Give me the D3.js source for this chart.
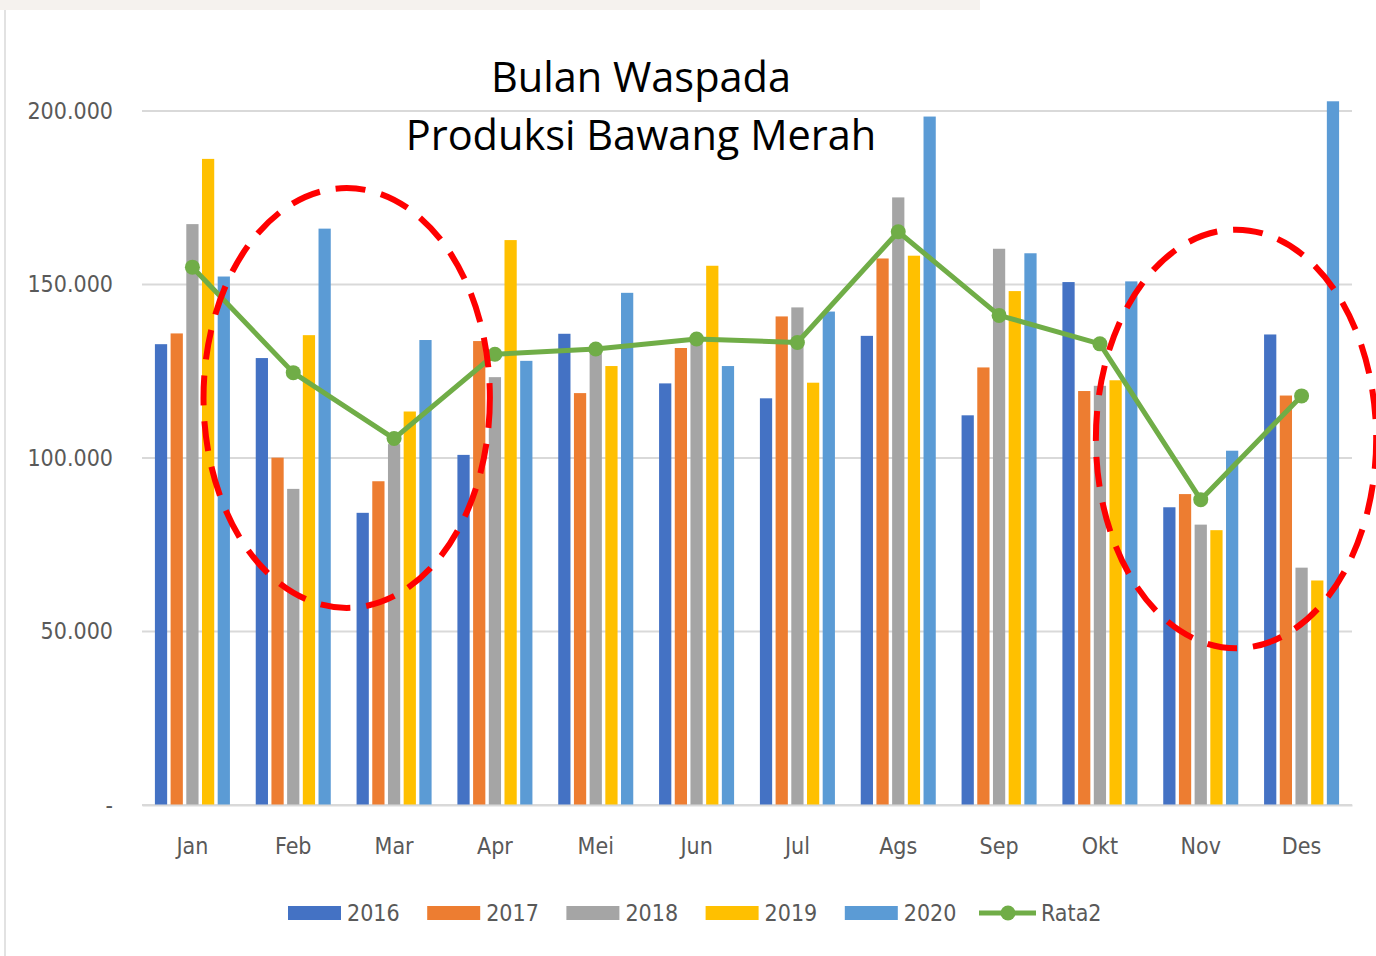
<!DOCTYPE html>
<html>
<head>
<meta charset="utf-8">
<script src="https://cdn.jsdelivr.net/npm/d3@7"></script>
<style>
  html, body { margin: 0; padding: 0; background: #fff; }
  svg { display: block; }
</style>
</head>
<body>
<div id="chart"></div>
<script>
// data
const months = ["Jan", "Feb", "Mar", "Apr", "Mei", "Jun", "Jul", "Ags", "Sep", "Okt", "Nov", "Des"];
const years = ["2016", "2017", "2018", "2019", "2020"];
const s2016 = [132800, 128800, 84200, 100900, 135800, 121500, 117200, 135200, 112300, 150700, 85800, 135600];
const s2017 = [135900, 100100, 93300, 133700, 118700, 131700, 140800, 157500, 126100, 119300, 89600, 118000];
const s2018 = [167400, 91100, 104000, 123300, 131000, 133400, 143400, 175100, 160300, 120800, 80800, 68400];
const s2019 = [186200, 135400, 113400, 162800, 126500, 155400, 121700, 158300, 148100, 122400, 79200, 64700];
const s2020 = [152300, 166100, 134000, 128000, 147600, 126500, 142200, 198400, 159000, 150900, 102100, 202800];
const rata2 = [155000, 124600, 105600, 129900, 131400, 134300, 133300, 165200, 141100, 132900, 88000, 117900];
const yTicks = [0, 50000, 100000, 150000, 200000];
const titleLines = ["Bulan Waspada", "Produksi Bawang Merah"];
// dashed circles drawn on the slide: centre in month units, centre value, radii
const marks = [
  { cx: 1.53, cy: 117300, rx: 1.42, ry: 60500 },
  { cx: 10.35, cy: 105500, rx: 1.39, ry: 60300 }
];

const series = [s2016, s2017, s2018, s2019, s2020];
const colors = ["#4472C4", "#ED7D31", "#A5A5A5", "#FFC000", "#5B9BD5"];
const lineColor = "#70AD47";

const W = 1376, H = 956;
const margin = { top: 111, right: 24, bottom: 151, left: 142 };
const width = W - margin.left - margin.right;
const height = H - margin.top - margin.bottom;

const svg = d3.select("#chart").append("svg")
    .attr("width", W)
    .attr("height", H);

// faded strip of the slide background at the top, and the slide border
svg.append("rect").attr("x", 0).attr("y", 0).attr("width", 980).attr("height", 10).attr("fill", "#f5f2ee");
svg.append("line").attr("x1", 5).attr("x2", 5).attr("y1", 10).attr("y2", H)
    .attr("stroke", "#e2e2e2").attr("stroke-width", 2);

const g = svg.append("g").attr("transform", "translate(" + margin.left + "," + margin.top + ")");

const x0 = d3.scaleBand().domain(months).range([0, width]).padding(0);
const x1 = d3.scaleBand().domain(years)
    .range([x0.bandwidth() * 0.128, x0.bandwidth() * 0.872])
    .paddingInner(0.22).paddingOuter(0);
const y = d3.scaleLinear().domain([0, 200000]).range([height, 0]);

const loc = d3.formatLocale({ decimal: ",", thousands: ".", grouping: [3], currency: ["Rp", ""] });
const fmt = v => v === 0 ? "-" : loc.format(",")(v);

const labelFont = "'DejaVu Sans Condensed', 'Liberation Sans Narrow', sans-serif";
const labelSize = 23;

// gridlines
g.append("g").selectAll("line").data(yTicks).join("line")
    .attr("x1", 0).attr("x2", width)
    .attr("y1", d => y(d)).attr("y2", d => y(d))
    .attr("stroke", "#d9d9d9").attr("stroke-width", 2);

// y labels
const yAxis = d3.axisLeft(y).tickValues(yTicks).tickFormat(fmt).tickSize(0).tickPadding(29);
g.append("g").call(yAxis)
    .call(a => a.select(".domain").remove())
    .selectAll("text")
    .attr("font-family", labelFont).attr("font-size", labelSize).attr("fill", "#595959");

// bars
const groups = g.append("g").selectAll("g").data(months).join("g")
    .attr("transform", d => "translate(" + x0(d) + ",0)");
groups.selectAll("rect")
    .data((m, i) => years.map((yr, k) => ({ yr: yr, k: k, v: series[k][i] })))
    .join("rect")
    .attr("x", d => x1(d.yr))
    .attr("width", x1.bandwidth())
    .attr("y", d => y(d.v))
    .attr("height", d => y(0) - y(d.v))
    .attr("fill", d => colors[d.k]);

// x axis
const xAxis = d3.axisBottom(x0).tickSize(0).tickPadding(33);
g.append("g").attr("transform", "translate(0," + height + ")").call(xAxis)
    .call(a => a.select(".domain").attr("stroke", "#d9d9d9").attr("stroke-width", 2))
    .selectAll("text")
    .attr("font-family", labelFont).attr("font-size", labelSize).attr("fill", "#595959");

// average line
const line = d3.line().x((d, i) => x0(months[i]) + x0.bandwidth() / 2).y(d => y(d));
g.append("path").datum(rata2)
    .attr("d", line).attr("fill", "none")
    .attr("stroke", lineColor).attr("stroke-width", 5).attr("stroke-linejoin", "round");
g.append("g").selectAll("circle").data(rata2).join("circle")
    .attr("cx", (d, i) => x0(months[i]) + x0.bandwidth() / 2)
    .attr("cy", d => y(d))
    .attr("r", 7.5)
    .attr("fill", lineColor);

// red dashed circles
const step = x0.step();
g.append("g").selectAll("ellipse").data(marks).join("ellipse")
    .attr("cx", d => (d.cx + 0.5) * step)
    .attr("cy", d => y(d.cy))
    .attr("rx", d => d.rx * step)
    .attr("ry", d => y(0) - y(d.ry))
    .attr("fill", "none")
    .attr("stroke", "#FF0000")
    .attr("stroke-width", 6)
    .attr("stroke-dasharray", "30 16");

// title
svg.append("g").selectAll("text").data(titleLines).join("text")
    .attr("x", 641)
    .attr("y", (d, i) => 92 + i * 58)
    .attr("text-anchor", "middle")
    .attr("font-family", "'Open Sans', sans-serif")
    .attr("font-size", 41.5)
    .attr("fill", "#000")
    .text(d => d);

// legend
const legendItems = years.concat(["Rata2"]);
const legend = svg.append("g").attr("transform", "translate(288,913)");
const item = legend.selectAll("g").data(legendItems).join("g")
    .attr("transform", (d, i) => "translate(" + (i * 139.2) + ",0)");
item.each(function(d, i) {
  const el = d3.select(this);
  if (i < years.length) {
    el.append("rect").attr("x", 0).attr("y", -7).attr("width", 53).attr("height", 14).attr("fill", colors[i]);
  } else {
    el.append("line").attr("x1", -5).attr("x2", 52).attr("y1", 0).attr("y2", 0)
        .attr("stroke", lineColor).attr("stroke-width", 5);
    el.append("circle").attr("cx", 24).attr("cy", 0).attr("r", 7.5).attr("fill", lineColor);
  }
  el.append("text")
      .attr("x", i < years.length ? 59 : 57)
      .attr("y", 8)
      .attr("font-family", labelFont).attr("font-size", labelSize).attr("fill", "#595959")
      .text(d);
});
</script>
</body>
</html>
